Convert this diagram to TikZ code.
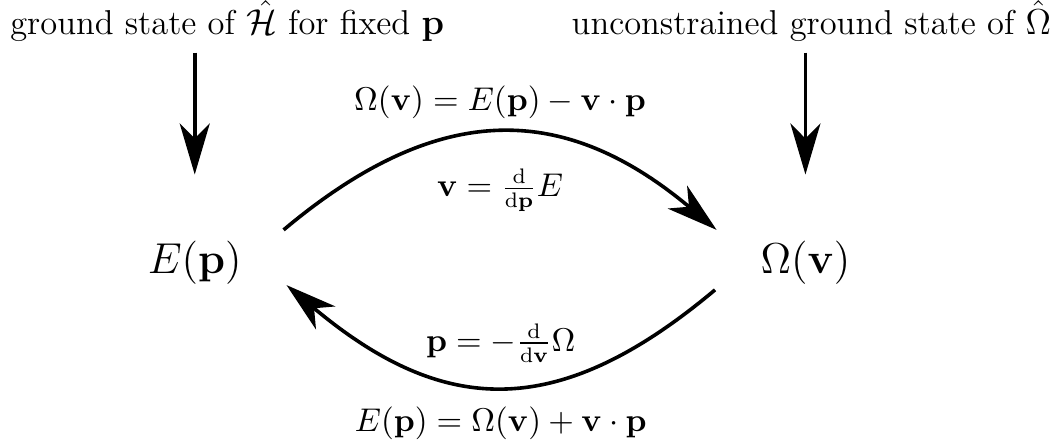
\documentclass[tikz,border=0pt]{standalone}
\usepackage{amsmath}
\usetikzlibrary{arrows.meta}

\tikzset{
  bigarrow/.style={-{Stealth[length=17pt,width=10pt,inset=5pt]}, line width=1.2pt},
  statebox/.style={circle, minimum size=2.2cm, inner sep=0pt, font=\Large},
  headlabel/.style={font=\fontsize{11.5pt}{14pt}\selectfont},
  arclabel/.style={font=\fontsize{10.6pt}{13pt}\selectfont}
}

\begin{document}
\begin{tikzpicture}
      \useasboundingbox (0,0) rectangle (12.34,5.21);

      % Headers
      \node[headlabel] (hl) at (2.66,4.96) {ground state of $\hat{\mathcal{H}}$ for fixed $\mathbf{p}$};
      \node[headlabel] (hr) at (9.50,4.96) {unconstrained ground state of $\hat{\Omega}$};

      % The two functions
      \node[statebox] (E) at (2.28,2.14) {$E(\mathbf{p})$};
      \node[statebox] (O) at (9.43,2.14) {$\Omega(\mathbf{v})$};

      % Down arrows
      \draw[bigarrow, shorten >=-0.08cm] (E |- hl.south) -- (E.north);
      \draw[bigarrow, shorten >=-0.08cm] (O |- hr.south) -- (O.north);

      % E to Omega
      \draw[bigarrow] (E.20) .. controls +(40:2.35) and +(140:2.35) .. (O.160)
            node[arclabel, midway, above, yshift=1pt] {$\Omega(\mathbf{v}) = E(\mathbf{p}) - \mathbf{v}\cdot\mathbf{p}$}
            node[arclabel, midway, below, yshift=-8pt] {$\mathbf{v} = \frac{\mathrm{d}}{\mathrm{d}\mathbf{p}}E$};

      % Omega back to E
      \draw[bigarrow] (O.197) .. controls +(220:2.4) and +(-40:2.4) .. (E.-14)
            node[arclabel, midway, above, yshift=4pt] {$\mathbf{p} = -\frac{\mathrm{d}}{\mathrm{d}\mathbf{v}}\Omega$}
            node[arclabel, midway, below, yshift=-3pt] {$E(\mathbf{p}) = \Omega(\mathbf{v}) + \mathbf{v}\cdot\mathbf{p}$};
\end{tikzpicture}
\end{document}
